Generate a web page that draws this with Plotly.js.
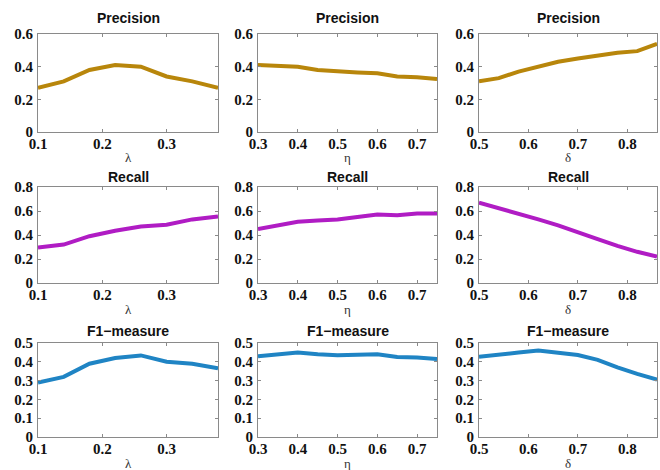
<!DOCTYPE html>
<html>
<head>
<meta charset="utf-8">
<script src="https://cdn.plot.ly/plotly-3.0.1.min.js"></script>
<style>html,body{margin:0;padding:0;background:#fff;}#chart{width:660px;height:470px;}</style>
</head>
<body>
<div id="chart"></div>
<script>
// Parameter values
const lambdaX = [0.10, 0.14, 0.18, 0.22, 0.26, 0.30, 0.34, 0.38];
const etaX = [0.30, 0.35, 0.40, 0.45, 0.50, 0.55, 0.60, 0.65, 0.70, 0.75];
const deltaX = [0.50, 0.54, 0.58, 0.62, 0.66, 0.70, 0.74, 0.78, 0.82, 0.86];

// Precision
const precisionLambda = [0.27, 0.31, 0.38, 0.41, 0.40, 0.34, 0.31, 0.27];
const precisionEta = [0.41, 0.405, 0.40, 0.38, 0.37, 0.365, 0.36, 0.34, 0.335, 0.325];
const precisionDelta = [0.31, 0.33, 0.37, 0.40, 0.43, 0.45, 0.47, 0.485, 0.495, 0.54];

// Recall
const recallLambda = [0.295, 0.32, 0.39, 0.435, 0.47, 0.485, 0.53, 0.555];
const recallEta = [0.45, 0.48, 0.51, 0.52, 0.53, 0.55, 0.57, 0.565, 0.58, 0.58];
const recallDelta = [0.67, 0.625, 0.58, 0.53, 0.48, 0.42, 0.365, 0.31, 0.26, 0.22];

// F1-measure
const f1Lambda = [0.29, 0.32, 0.39, 0.42, 0.434, 0.40, 0.39, 0.365];
const f1Eta = [0.43, 0.44, 0.45, 0.44, 0.435, 0.437, 0.44, 0.425, 0.423, 0.415];
const f1Delta = [0.427, 0.436, 0.449, 0.46, 0.45, 0.436, 0.41, 0.37, 0.336, 0.305];

const rowTitles = ['Precision', 'Recall', 'F1\u2212measure'];
const colLabels = ['\u03bb', '\u03b7', '\u03b4'];
const xRanges = [[0.1, 0.38], [0.3, 0.75], [0.5, 0.86]];
const xTicks = [[0.1, 0.2, 0.3], [0.3, 0.4, 0.5, 0.6, 0.7], [0.5, 0.6, 0.7, 0.8]];
const yRanges = [[0, 0.6], [0, 0.8], [0, 0.5]];
const yDtick = [0.2, 0.2, 0.1];
const rowColors = ['#B8860B', '#B01CC4', '#1F84C4'];

const xs = [lambdaX, etaX, deltaX];
const ys = [
  [precisionLambda, precisionEta, precisionDelta],
  [recallLambda, recallEta, recallDelta],
  [f1Lambda, f1Eta, f1Delta]
];

const W = 660, H = 470;
const colPx = [[38, 218], [258, 437], [479, 657]];
const rowPx = [[34, 132], [187, 283], [343, 437]];
const titleY = [18, 177, 331];
const xLabelY = [157, 309, 463];

const traces = [];
const layout = {
  width: W, height: H,
  margin: {l: 0, r: 0, t: 0, b: 0},
  paper_bgcolor: '#fff', plot_bgcolor: '#fff',
  showlegend: false,
  annotations: []
};

const serifFamily = '"Times New Roman", "Liberation Serif", "DejaVu Serif", serif';
const tickFont = {family: serifFamily, size: 15, color: '#111', weight: 'bold'};

let k = 0;
for (let r = 0; r < 3; r++) {
  for (let c = 0; c < 3; c++) {
    k++;
    const xa = k === 1 ? 'xaxis' : 'xaxis' + k;
    const ya = k === 1 ? 'yaxis' : 'yaxis' + k;
    traces.push({
      x: xs[c], y: ys[r][c], type: 'scatter', mode: 'lines',
      xaxis: 'x' + (k === 1 ? '' : k), yaxis: 'y' + (k === 1 ? '' : k),
      line: {color: rowColors[r], width: 4},
      hoverinfo: 'none'
    });
    const xd = [colPx[c][0] / W, colPx[c][1] / W];
    const yd = [1 - rowPx[r][1] / H, 1 - rowPx[r][0] / H];
    layout[xa] = {
      domain: xd, anchor: 'y' + (k === 1 ? '' : k), range: xRanges[c],
      tickvals: xTicks[c], ticktext: xTicks[c].map(v => v.toFixed(1)),
      showgrid: false, zeroline: false, showline: true, mirror: 'ticks',
      linecolor: '#8a8a8a', linewidth: 1, ticks: 'inside', ticklen: 3, tickcolor: '#8a8a8a',
      tickfont: tickFont, ticklabelstandoff: -2
    };
    const yt = [];
    for (let v = yRanges[r][0]; v <= yRanges[r][1] + 1e-9; v += yDtick[r]) yt.push(+v.toFixed(2));
    layout[ya] = {
      domain: yd, anchor: 'x' + (k === 1 ? '' : k), range: yRanges[r],
      tickvals: yt, ticktext: yt.map(v => v === 0 ? '0' : v.toFixed(1)),
      showgrid: false, zeroline: false, showline: true, mirror: 'ticks',
      linecolor: '#8a8a8a', linewidth: 1, ticks: 'inside', ticklen: 3, tickcolor: '#8a8a8a',
      tickfont: tickFont, ticklabelstandoff: 1
    };
    layout.annotations.push({
      text: '<b>' + rowTitles[r] + '</b>', xref: 'paper', yref: 'paper',
      x: (xd[0] + xd[1]) / 2, y: 1 - titleY[r] / H, xanchor: 'center', yanchor: 'middle',
      showarrow: false, font: {family: 'Liberation Sans, Arial, sans-serif', size: 14, color: '#111'}
    });
    layout.annotations.push({
      text: colLabels[c], xref: 'paper', yref: 'paper',
      x: (xd[0] + xd[1]) / 2, y: 1 - xLabelY[r] / H, xanchor: 'center', yanchor: 'middle',
      showarrow: false, font: {family: serifFamily, size: 13, color: '#333'}
    });
  }
}

Plotly.newPlot('chart', traces, layout, {staticPlot: true});
</script>
</body>
</html>
